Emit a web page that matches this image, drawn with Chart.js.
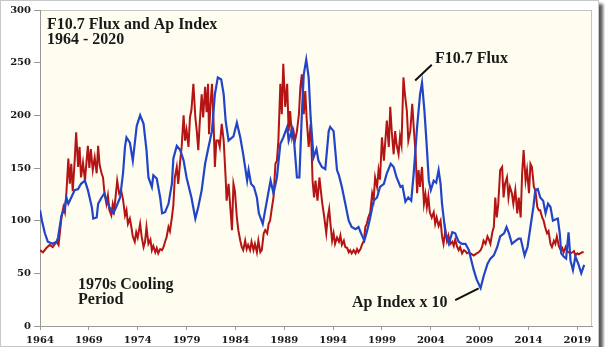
<!DOCTYPE html>
<html>
<head>
<meta charset="utf-8">
<script src="https://cdn.jsdelivr.net/npm/chart.js@4"></script>
<style>
  body { margin: 0; background: #fff; }
  #frame {
    width: 597px; height: 345px;
    border: 1px solid #c8c8c8;
    box-shadow: 4px 4px 3px rgba(0,0,0,0.65);
    background: #fff;
  }
  canvas { display: block; }
</style>
</head>
<body>
<div id="frame"><canvas id="myChart" width="597" height="345"></canvas></div>
<script>
// F10.7 solar flux (monthly)
var fluxYears = [
  1964.0,1964.3,1964.65,1965.0,1965.3,1965.7,1965.9,1966.2,1966.4,1966.55,1966.7,1966.9,1967.05,1967.2,1967.35,1967.55,1967.7,1967.9,
  1968.05,1968.2,1968.4,1968.6,1968.75,1968.9,1969.05,1969.2,1969.4,1969.6,1969.8,1969.95,1970.1,1970.3,1970.45,1970.6,1970.8,1970.95,
  1971.1,1971.3,1971.45,1971.6,1971.9,1972.1,1972.3,1972.5,1972.7,1972.85,1973.0,1973.2,1973.35,1973.5,1973.7,1973.85,1974.0,1974.25,
  1974.4,1974.6,1974.75,1974.9,1975.1,1975.3,1975.45,1975.6,1975.8,1975.95,1976.1,1976.3,1976.5,1976.65,1976.8,1976.95,1977.15,1977.3,
  1977.5,1977.65,1977.8,1978.0,1978.15,1978.35,1978.5,1978.7,1978.85,1979.0,1979.2,1979.35,1979.5,1979.7,1979.9,1980.05,1980.2,1980.35,
  1980.55,1980.7,1980.9,1981.05,1981.2,1981.3,1981.45,1981.6,1981.75,1981.9,1982.05,1982.25,1982.4,1982.6,1982.8,1983.0,1983.1,1983.3,
  1983.5,1983.65,1983.8,1983.95,1984.15,1984.3,1984.5,1984.65,1984.8,1985.0,1985.15,1985.3,1985.5,1985.65,1985.85,1986.0,1986.2,1986.35,
  1986.55,1986.7,1986.9,1987.05,1987.25,1987.4,1987.55,1987.75,1987.9,1988.1,1988.25,1988.4,1988.6,1988.75,1988.9,1989.1,1989.3,1989.45,
  1989.6,1989.8,1989.95,1990.1,1990.3,1990.5,1990.65,1990.8,1991.0,1991.15,1991.3,1991.5,1991.7,1991.8,1991.9,1992.05,1992.2,1992.4,
  1992.6,1992.75,1992.9,1993.1,1993.3,1993.45,1993.6,1993.75,1993.9,1994.05,1994.2,1994.4,1994.6,1994.75,1994.9,1995.1,1995.25,1995.45,
  1995.6,1995.75,1995.9,1996.1,1996.3,1996.45,1996.6,1996.8,1996.95,1997.15,1997.3,1997.45,1997.6,1997.8,1998.0,1998.15,1998.3,1998.5,
  1998.65,1998.8,1999.0,1999.2,1999.35,1999.5,1999.7,1999.85,2000.0,2000.2,2000.35,2000.5,2000.7,2000.85,2001.0,2001.2,2001.35,2001.55,
  2001.7,2001.9,2002.1,2002.25,2002.45,2002.6,2002.75,2002.9,2003.1,2003.3,2003.45,2003.6,2003.75,2003.9,2004.1,2004.3,2004.45,2004.6,
  2004.8,2005.0,2005.15,2005.3,2005.5,2005.65,2005.8,2006.0,2006.2,2006.35,2006.5,2006.7,2006.85,2007.0,2007.2,2007.4,2007.55,2007.7,
  2007.9,2008.05,2008.4,2008.7,2008.9,2009.1,2009.25,2009.4,2009.6,2009.8,2009.95,2010.1,2010.3,2010.45,2010.6,2010.75,2010.9,2011.1,
  2011.3,2011.45,2011.6,2011.8,2011.95,2012.1,2012.3,2012.45,2012.65,2012.85,2013.0,2013.2,2013.35,2013.5,2013.7,2013.85,2014.05,2014.2,
  2014.35,2014.55,2014.7,2014.9,2015.05,2015.2,2015.4,2015.55,2015.7,2015.9,2016.05,2016.25,2016.4,2016.6,2016.75,2016.9,2017.1,2017.3,
  2017.45,2017.6,2017.8,2017.95,2018.1,2018.3,2018.5,2018.65,2018.8,2019.0,2019.15,2019.3,2019.5,2019.65
];
var fluxValues = [
  72,70,74,77,75,80,77,103,113,108,126,159,135,154,128,157,184,151,
  170,141,155,138,155,171,150,168,148,160,145,171,153,145,141,126,116,124,
  110,105,116,110,138,126,129,120,105,110,97,102,94,85,80,89,84,97,
  85,75,80,94,78,82,72,76,70,74,69,73,72,75,80,84,94,90,
  103,115,141,151,135,157,170,200,176,186,170,198,205,230,198,185,167,193,
  220,198,227,203,230,182,210,230,198,151,176,176,170,192,176,141,119,135,
  110,91,135,128,103,91,81,75,72,81,73,77,72,80,72,78,70,81,
  70,72,88,91,88,97,100,113,122,154,157,176,230,201,249,208,230,185,
  204,179,185,176,185,201,227,239,201,223,196,170,192,167,138,122,138,119,
  141,128,116,103,88,103,111,95,81,88,78,84,80,86,77,81,75,74,
  70,72,69,72,69,73,70,73,77,81,94,97,103,108,126,120,141,132,
  148,139,179,157,176,195,170,208,185,163,185,172,163,180,172,236,220,204,
  176,185,211,189,163,126,148,132,151,116,125,113,123,108,103,108,97,103,
  95,100,85,78,91,81,86,78,80,76,82,75,72,75,69,72,71,69,
  70,69,67,69,70,72,75,81,78,85,82,78,89,94,122,103,115,148,
  151,122,135,141,122,132,126,116,129,107,122,103,145,167,138,148,126,154,
  151,132,129,113,110,110,103,100,94,88,90,78,75,81,78,85,76,72,
  74,70,75,71,70,69,70,71,67,69,68,69,70,70
];

// Ap index x 10
var apYears = [
  1964.0,1964.2,1964.5,1964.8,1965.3,1965.7,1965.85,1966.2,1966.5,1966.7,1966.9,1967.2,1967.55,1967.9,1968.2,1968.6,1968.9,1969.3,
  1969.45,1969.8,1969.95,1970.3,1970.6,1970.8,1971.1,1971.5,1971.8,1972.2,1972.5,1972.7,1972.85,1973.2,1973.5,1973.9,1974.25,1974.6,
  1974.9,1975.1,1975.45,1975.6,1975.95,1976.3,1976.5,1976.8,1977.15,1977.5,1977.65,1978.0,1978.35,1978.7,1979.0,1979.5,1979.9,1980.2,
  1980.55,1980.9,1981.25,1981.6,1981.9,1982.2,1982.55,1982.8,1983.0,1983.3,1983.8,1984.15,1984.5,1984.8,1985.2,1985.35,1985.6,1985.9,
  1986.2,1986.4,1986.8,1987.05,1987.6,1987.9,1988.25,1988.6,1988.9,1989.3,1989.45,1989.8,1990.0,1990.3,1990.55,1990.8,1991.0,1991.25,
  1991.5,1991.7,1992.0,1992.3,1992.5,1992.85,1993.2,1993.55,1993.7,1994.05,1994.4,1994.6,1994.9,1995.25,1995.6,1995.9,1996.3,1996.6,
  1996.95,1997.2,1997.5,1997.8,1998.15,1998.5,1998.8,1999.2,1999.5,1999.9,2000.2,2000.5,2000.9,2001.1,2001.4,2001.7,2002.0,2002.25,
  2002.6,2002.9,2003.1,2003.35,2003.55,2003.8,2004.0,2004.3,2004.55,2004.8,2005.0,2005.15,2005.5,2005.85,2006.2,2006.5,2006.85,2007.2,
  2007.55,2007.9,2008.05,2008.4,2008.7,2009.1,2009.4,2009.8,2010.1,2010.45,2010.8,2011.1,2011.5,2011.75,2012.0,2012.3,2012.7,2013.0,
  2013.2,2013.6,2013.9,2014.2,2014.5,2014.7,2014.95,2015.2,2015.5,2015.75,2016.0,2016.25,2016.5,2016.75,2017.0,2017.2,2017.35,2017.6,
  2017.85,2018.1,2018.3,2018.55,2018.8,2019.1,2019.4,2019.7
];
var apValues = [
  110,100,88,80,78,80,84,105,111,122,116,122,129,130,135,138,129,113,
  102,103,116,122,126,119,113,107,113,122,145,170,179,174,157,190,200,192,
  167,141,132,143,140,122,107,108,116,135,159,171,167,157,141,122,102,113,
  129,154,170,185,220,236,234,220,195,176,180,193,179,163,138,148,135,132,
  122,107,97,110,138,126,141,173,179,189,176,187,176,141,141,201,239,253,
  236,198,160,168,157,151,149,185,189,185,148,143,132,116,100,94,92,94,
  86,81,91,103,119,122,132,135,145,154,151,141,132,133,118,122,119,145,
  189,220,231,204,176,138,129,138,136,148,135,116,88,78,89,88,80,78,
  78,72,66,53,44,36,47,59,64,67,75,85,88,94,88,78,81,83,
  83,67,75,94,113,129,130,122,119,107,116,113,100,101,102,88,69,66,
  64,89,62,53,66,59,50,58
];

var xTicks = [1964, 1969, 1974, 1979, 1984, 1989, 1994, 1999, 2004, 2009, 2014, 2019];
var yTicks = [0, 50, 100, 150, 200, 250, 300];

function toPoints(xs, ys) {
  return xs.map(function(x, i) { return {x: x, y: ys[i]}; });
}

var serif = '"Liberation Serif", "Times New Roman", serif';

// cream plot area + thin border round it
var plotBackground = {
  id: 'plotBackground',
  beforeDraw: function(chart) {
    var a = chart.chartArea, ctx = chart.ctx;
    ctx.save();
    ctx.fillStyle = '#fefdf0';
    ctx.fillRect(a.left, a.top, a.right - a.left, a.bottom - a.top);
    ctx.strokeStyle = '#c4c4c4';
    ctx.lineWidth = 1;
    ctx.strokeRect(a.left + 0.5, a.top + 0.5, a.right - a.left - 1, a.bottom - a.top);
    ctx.restore();
  }
};

// title, labels and pointer lines
var annotations = {
  id: 'annotations',
  afterDraw: function(chart) {
    var ctx = chart.ctx, xs = chart.scales.x, ys = chart.scales.y;
    ctx.save();
    ctx.fillStyle = '#1a1a1a';
    ctx.font = 'bold 16px ' + serif;
    ctx.textBaseline = 'alphabetic';
    ctx.fillText('F10.7 Flux and Ap Index', 46, 28);
    ctx.fillText('1964 - 2020', 46, 43);
    ctx.fillText('F10.7 Flux', 434, 62);
    ctx.fillText('Ap Index x 10', 351, 306);
    ctx.fillText('1970s Cooling', 77, 288);
    ctx.fillText('Period', 77, 303);

    ctx.strokeStyle = '#111';
    ctx.lineWidth = 2;
    ctx.beginPath();
    ctx.moveTo(xs.getPixelForValue(2004.1), ys.getPixelForValue(248));
    ctx.lineTo(xs.getPixelForValue(2002.4), ys.getPixelForValue(233));
    ctx.moveTo(xs.getPixelForValue(2006.5), ys.getPixelForValue(24.6));
    ctx.lineTo(xs.getPixelForValue(2008.9), ys.getPixelForValue(35.7));
    ctx.stroke();
    ctx.restore();
  }
};

var tickFont = {family: '"DejaVu Serif", serif', size: 10, weight: 'bold'};

var ctx = document.getElementById('myChart').getContext('2d');
new Chart(ctx, {
  type: 'line',
  data: {
    datasets: [
      {
        label: 'Ap Index x 10',
        data: toPoints(apYears, apValues),
        borderColor: '#2244c8',
        borderWidth: 2.2,
        pointRadius: 0,
        tension: 0
      },
      {
        label: 'F10.7 Flux',
        data: toPoints(fluxYears, fluxValues),
        borderColor: '#b41414',
        borderWidth: 2,
        pointRadius: 0,
        tension: 0
      }
    ]
  },
  options: {
    responsive: false,
    animation: false,
    layout: { padding: { top: 8, right: 6, left: 0, bottom: 0 } },
    plugins: { legend: { display: false }, tooltip: { enabled: false } },
    scales: {
      x: {
        type: 'linear',
        min: 1964,
        max: 2020.5,
        afterBuildTicks: function(axis) {
          axis.ticks = xTicks.map(function(v) { return {value: v}; });
        },
        afterFit: function(scale) { scale.height = 20; },
        ticks: {
          color: '#1a1a1a',
          font: tickFont,
          padding: 4,
          maxRotation: 0,
          autoSkip: false,
          callback: function(v) { return String(v); }
        },
        grid: { drawOnChartArea: false, tickLength: 4, color: '#999' },
        border: { color: '#999' }
      },
      y: {
        min: 0,
        max: 300,
        afterBuildTicks: function(axis) {
          axis.ticks = yTicks.map(function(v) { return {value: v}; });
        },
        afterFit: function(scale) { scale.width = 39; },
        ticks: { color: '#1a1a1a', font: tickFont, padding: 3 },
        grid: { drawOnChartArea: false, tickLength: 6, color: '#999' },
        border: { color: '#999' }
      }
    }
  },
  plugins: [plotBackground, annotations]
});
</script>
</body>
</html>
